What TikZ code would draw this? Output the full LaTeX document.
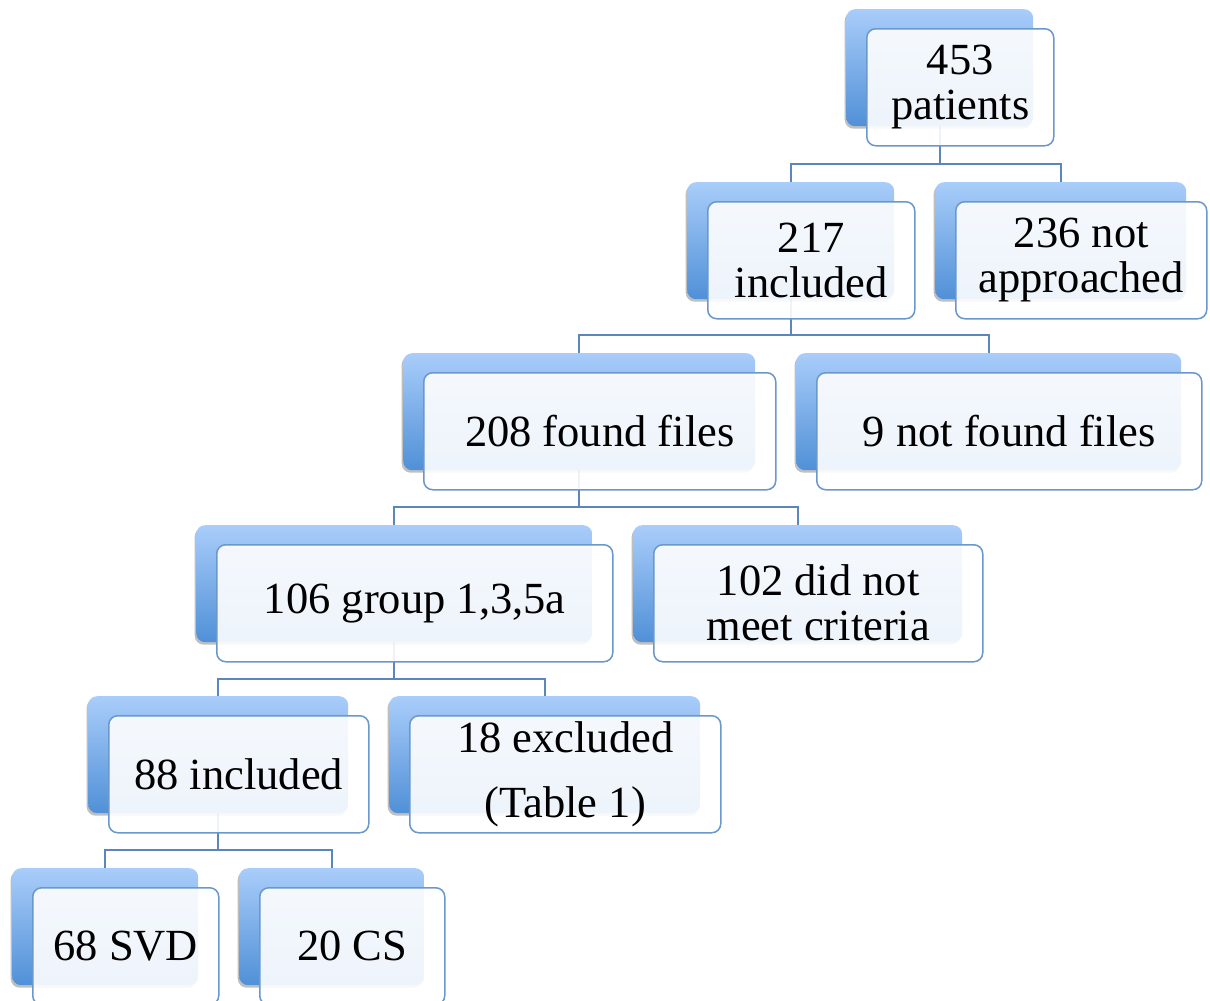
\documentclass[tikz,border=0pt]{standalone}
\usepackage{fontspec}
\setmainfont{Liberation Serif}
\usetikzlibrary{shadows}
\pgfdeclarelayer{bg}
\pgfdeclarelayer{links}
\pgfsetlayers{bg,links,main}
\definecolor{backtop}{HTML}{A9CDFA}
\definecolor{backbot}{HTML}{5090D7}
\definecolor{edgeblue}{HTML}{6A98CC}
\definecolor{linkblue}{HTML}{5B86BC}
\tikzset{
  backbox/.style={rectangle, rounded corners=9pt, top color=backtop, bottom color=backbot,
    draw=none, anchor=north west, inner sep=0pt, minimum height=117pt,
    drop shadow={shadow xshift=-1.5pt, shadow yshift=-2.5pt, opacity=0.25, fill=black}},
  frontbox/.style={rectangle, rounded corners=9pt, draw=edgeblue, line width=1.5pt,
    fill=white, fill opacity=0.9, text opacity=1, anchor=north west, inner sep=0pt,
    minimum height=117pt, align=center, font=\fontsize{44.5}{45}\selectfont},
  conn/.style={draw=linkblue, line width=1.8pt},
}
\newcommand\card[5]{%
  \node[backbox, minimum width=#4pt] (b#1) at (#2,#3) {};
  \node[frontbox, minimum width=#4pt] (f#1) at (#2+20,#3+19) {#5};
}
\begin{document}
\begin{tikzpicture}[x=1pt,y=-1pt]
\useasboundingbox (0,0) rectangle (1210,1001);
\begin{pgfonlayer}{bg}
  \fill[white] (0,0) rectangle (1210,1001);
\end{pgfonlayer}
\clip (0,0) rectangle (1210,1001);
\card{1}{846}{9}{187}{453\\patients}
\card{2}{687}{182}{207}{217\\included}
\card{3}{935}{182}{251}{236 not\\approached}
\card{4}{403}{353}{352}{208 found files}
\card{5}{796}{353}{385}{9 not found files}
\card{6}{196}{525}{396}{106 group 1,3,5a}
\card{7}{633}{525}{329}{102 did not\\meet criteria}
\card{8}{88}{696}{260}{88 included}
\card{9}{389}{696}{311}{18 excluded\\[20pt](Table 1)}
\card{10}{12}{868}{186}{68 SVD}
\card{11}{239}{868}{185}{20 CS}
\begin{pgfonlayer}{links}
  \draw[conn] (b2.north) -- ++(0,-18) -| (b1.south);
  \draw[conn] (b3.north) -- ++(0,-18) -| (b1.south);
  \draw[conn] (b4.north) -- ++(0,-18) -| (b2.south);
  \draw[conn] (b5.north) -- ++(0,-18) -| (b2.south);
  \draw[conn] (b6.north) -- ++(0,-18) -| (b4.south);
  \draw[conn] (b7.north) -- ++(0,-18) -| (b4.south);
  \draw[conn] (b8.north) -- ++(0,-17) -| (b6.south);
  \draw[conn] (b9.north) -- ++(0,-17) -| (b6.south);
  \draw[conn] (b10.north) -- ++(0,-18) -| (b8.south);
  \draw[conn] (b11.north) -- ++(0,-18) -| (b8.south);
\end{pgfonlayer}
\end{tikzpicture}
\end{document}
